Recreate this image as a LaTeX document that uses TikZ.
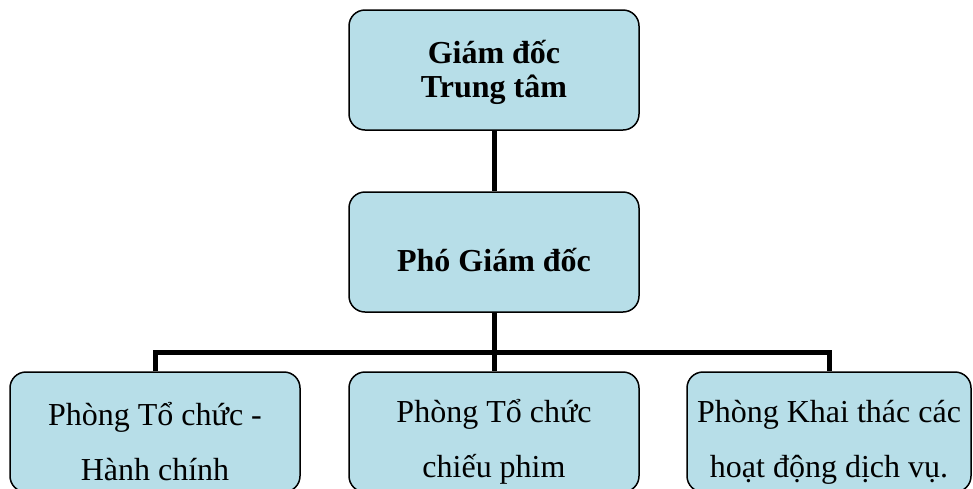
\documentclass[tikz,border=0pt]{standalone}
\usepackage{fontspec}
\setmainfont{Liberation Serif}
\definecolor{boxfill}{HTML}{B7DEE8}

\begin{document}
\begin{tikzpicture}[x=1pt,y=-1pt,
        box/.style={draw,fill=boxfill,line width=1.5pt,rounded corners=16pt,
            minimum width=290pt,minimum height=120pt,inner sep=0pt},
        lbl/.style={align=center,font=\fontsize{32}{55}\selectfont},
        head/.style={align=center,font=\bfseries\fontsize{32}{34}\selectfont},
        conn/.style={line width=5pt,line join=miter}]
        \useasboundingbox (0,0) rectangle (973,488);
        \node[box,label={[head,yshift=-2pt]center:{Giám đốc\\Trung tâm}}] (gd) at (494,70) {};
        \node[box,label={[head,yshift=-8pt]center:Phó Giám đốc}] (pgd) at (494,252) {};
        \node[box,label={[lbl,yshift=-10pt]center:{Phòng Tổ chức -\\Hành chính}}] (p1) at (155,432) {};
        \node[box,label={[lbl,yshift=-10pt]center:{Phòng Tổ chức\\chiếu phim}}] (p2) at (494,432) {};
        \node[box,minimum width=284pt,label={[lbl,yshift=-10pt]center:{Phòng Khai thác các\\hoạt động dịch vụ.}}] (p3) at (829,432) {};
        \coordinate (bus) at (494,352);
        \draw[conn] (gd) -- (pgd);
        \draw[conn] (pgd) -- (bus);
        \draw[conn] (p1.north) |- (bus) -| (p3.north);
        \draw[conn] (bus) -- (p2);
\end{tikzpicture}
\end{document}
